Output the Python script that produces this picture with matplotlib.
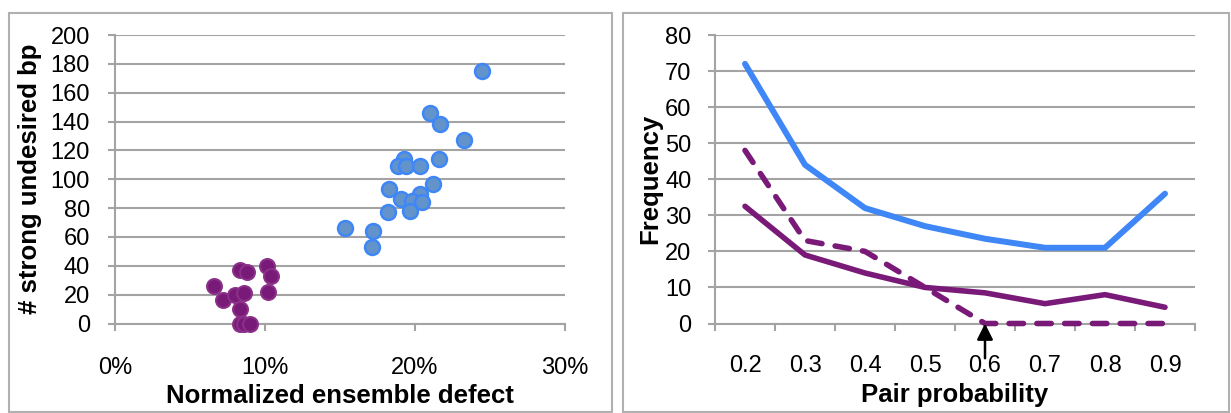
import matplotlib.pyplot as plt
import numpy as np
from matplotlib.patches import Rectangle
from matplotlib.ticker import PercentFormatter, FixedLocator

plt.rcParams['font.family'] = ['Liberation Sans', 'DejaVu Sans']

# left panel: scatter of ensemble defect vs strong undesired base pairs
blue_defect = [0.245, 0.210, 0.217, 0.233, 0.216, 0.193, 0.189, 0.194, 0.203, 0.212,
               0.183, 0.203, 0.191, 0.198, 0.205, 0.197, 0.182, 0.153, 0.172, 0.171]
blue_bp = [175, 146, 138, 127, 114, 114, 109, 109, 109, 97,
           93, 90, 86, 85, 84, 78, 77, 66, 64, 53]
purple_defect = [0.066, 0.072, 0.080, 0.086, 0.083, 0.088, 0.083, 0.083, 0.086, 0.090,
                 0.101, 0.104, 0.102]
purple_bp = [26, 16, 20, 21, 37, 36, 10, 0, 0, 0, 40, 33, 22]

# right panel: frequency vs pair probability
pair_prob = ['0.2', '0.3', '0.4', '0.5', '0.6', '0.7', '0.8', '0.9']
blue_freq = [72, 44, 32, 27, 23.5, 21, 21, 36]
purple_freq = [32.5, 19, 14, 10, 8.5, 5.5, 8, 4.5]
purple_dash_freq = [48, 23, 20, 10, 0, 0, 0, 0]

BLUE_LINE = '#3f86f6'
BLUE_FACE = '#6294cb'
PURPLE = '#7a1a78'
GRID = '#a3a3a3'

W, H = 1231, 413
fig = plt.figure(figsize=(W / 100, H / 100), dpi=100)

# panel borders
for x0, x1 in [(9, 612), (623, 1229)]:
    fig.patches.append(Rectangle((x0 / W, 1 - 412 / H), (x1 - x0) / W, (412 - 13) / H,
                                 transform=fig.transFigure, fill=False,
                                 edgecolor='#b0b0b0', linewidth=1.5))


def style_axes(ax):
    for s in ['top', 'right']:
        ax.spines[s].set_visible(False)
    for s in ['left', 'bottom']:
        ax.spines[s].set_color(GRID)
        ax.spines[s].set_linewidth(1.5)
    ax.yaxis.grid(True, color=GRID, linewidth=1.5)
    ax.set_axisbelow(True)
    ax.tick_params(axis='both', which='major', color=GRID, width=1.5, length=5,
                   labelsize=17)
    ax.tick_params(axis='y', pad=13)


top, bottom = 35, 323.5
ax1 = fig.add_axes([115 / W, 1 - bottom / H, 450 / W, (bottom - top) / H])
style_axes(ax1)
ax1.scatter(blue_defect, blue_bp, s=115, color=BLUE_FACE, edgecolors=BLUE_LINE,
            linewidths=1.8, zorder=3, clip_on=False)
ax1.scatter(purple_defect, purple_bp, s=115, color=PURPLE, edgecolors='#8a3088',
            linewidths=1.5, zorder=3, clip_on=False)
ax1.set_xlim(0, 0.30)
ax1.set_ylim(0, 200)
ax1.set_xticks([0, 0.1, 0.2, 0.3])
ax1.set_yticks(np.arange(0, 201, 20))
ax1.xaxis.set_major_formatter(PercentFormatter(xmax=1, decimals=0))
ax1.tick_params(axis='x', pad=19)
ax1.set_xlabel('Normalized ensemble defect', fontsize=18.5, fontweight='bold', labelpad=4)
ax1.set_ylabel('# strong undesired bp', fontsize=18.5, fontweight='bold')
ax1.yaxis.set_label_coords(-0.162, 0.5)

ax2 = fig.add_axes([715 / W, 1 - bottom / H, 480 / W, (bottom - top) / H])
style_axes(ax2)
xs = np.arange(len(pair_prob))
ax2.plot(xs, blue_freq, color=BLUE_LINE, linewidth=4.3, solid_capstyle='round',
         solid_joinstyle='round', zorder=3)
ax2.plot(xs, purple_freq, color=PURPLE, linewidth=4, solid_capstyle='round',
         solid_joinstyle='round', zorder=3)
ax2.plot(xs, purple_dash_freq, color=PURPLE, linewidth=4, dashes=(2.6, 2.4),
         dash_capstyle='round', dash_joinstyle='round', zorder=3, clip_on=False)
ax2.set_xlim(-0.5, len(pair_prob) - 0.5)
ax2.set_ylim(0, 80)
ax2.set_yticks(np.arange(0, 81, 10))
ax2.tick_params(axis='y', pad=12)
ax2.xaxis.set_major_locator(FixedLocator(np.arange(-0.5, len(pair_prob))))
ax2.set_xticklabels([])
ax2.set_xticks(xs, minor=True)
ax2.set_xticklabels(pair_prob, minor=True)
ax2.tick_params(axis='x', which='minor', length=0, labelsize=17, pad=23)
ax2.set_xlabel('Pair probability', fontsize=18.5, fontweight='bold', labelpad=4)
ax2.set_ylabel('Frequency', fontsize=18.5, fontweight='bold')
ax2.yaxis.set_label_coords(-0.110, 0.5)

# arrow marking 0.6
ax2.annotate('', xy=(4, 0), xytext=(0, -25), textcoords='offset points',
             arrowprops=dict(arrowstyle='-|>', color='black', lw=1.8,
                             mutation_scale=24, shrinkA=0, shrinkB=0),
             annotation_clip=False, zorder=5)

plt.savefig('out.png', dpi=100)
